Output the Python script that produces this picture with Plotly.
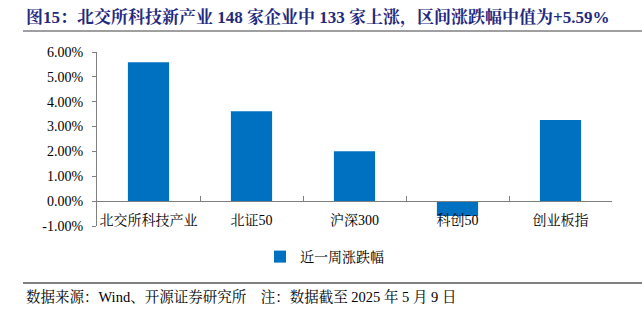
import plotly.graph_objects as go

categories = ["北交所科技产业", "北证50", "沪深300", "科创50", "创业板指"]
weekly_change = [5.59, 3.62, 2.01, -0.60, 3.26]
series_name = "近一周涨跌幅"
y_tick_vals = [-1, 0, 1, 2, 3, 4, 5, 6]
y_tick_text = ["-1.00%", "0.00%", "1.00%", "2.00%", "3.00%", "4.00%", "5.00%", "6.00%"]
title_text = "图15：北交所科技新产业 148 家企业中 133 家上涨，区间涨跌幅中值为+5.59%"
footer_text = "数据来源：Wind、开源证券研究所　注：数据截至 2025 年 5 月 9 日"

W, H = 642, 324
L, R, T, B = 97, 30, 52, 98
pw, ph = W - L - R, H - T - B

def px_x(p):
    return (p - L) / pw

def px_y(p):
    return (H - B - p) / ph

FONT = "Liberation Serif, Noto Serif CJK SC, Noto Sans CJK SC, serif"

fig = go.Figure()
fig.add_trace(go.Bar(
    x=categories, y=weekly_change, name=series_name,
    marker=dict(color="#0070C0", line=dict(width=0)),
    width=0.4, showlegend=True,
))

ymin, ymax = -1, 6
zero_pos = (0 - ymin) / (ymax - ymin)

fig.update_layout(
    width=W, height=H,
    margin=dict(l=L, r=R, t=T, b=B, pad=0),
    paper_bgcolor="white", plot_bgcolor="white",
    font=dict(family=FONT, size=14, color="#000000"),
    bargap=0.6,
    xaxis=dict(
        type="category", anchor="free", position=zero_pos,
        showline=True, linecolor="#7f7f7f", linewidth=1,
        ticks="inside", ticklen=5, tickcolor="#7f7f7f", tickson="boundaries",
        showgrid=False, zeroline=False, tickangle=0,
        tickfont=dict(family=FONT, size=14, color="#000000"),
        ticklabelstandoff=6,
    ),
    yaxis=dict(
        range=[ymin, ymax], tickvals=y_tick_vals, ticktext=y_tick_text,
        showline=True, linecolor="#7f7f7f", linewidth=1,
        ticks="outside", ticklen=4, tickcolor="#7f7f7f",
        showgrid=False, zeroline=False,
        tickfont=dict(family=FONT, size=14, color="#000000"),
        ticklabelstandoff=6,
    ),
    legend=dict(
        orientation="h", x=px_x(260), y=px_y(257), xanchor="left", yanchor="middle",
        font=dict(family=FONT, size=14, color="#000000"),
        bgcolor="rgba(0,0,0,0)",
    ),
)

fig.add_annotation(
    text="<b>" + title_text + "</b>", xref="paper", yref="paper",
    x=px_x(24), y=px_y(18), xanchor="left", yanchor="middle", showarrow=False,
    font=dict(family=FONT, size=17, color="#1F2A80"),
)
fig.add_annotation(
    text=footer_text, xref="paper", yref="paper",
    x=px_x(24), y=px_y(296), xanchor="left", yanchor="middle", showarrow=False,
    font=dict(family=FONT, size=14.5, color="#000000"),
)
fig.add_shape(type="line", xref="paper", yref="paper",
              x0=px_x(23), x1=px_x(642), y0=px_y(31), y1=px_y(31),
              line=dict(color="#404040", width=1.2))
fig.add_shape(type="line", xref="paper", yref="paper",
              x0=px_x(23), x1=px_x(642), y0=px_y(283), y1=px_y(283),
              line=dict(color="#808080", width=2))

fig.write_html("out.html")
